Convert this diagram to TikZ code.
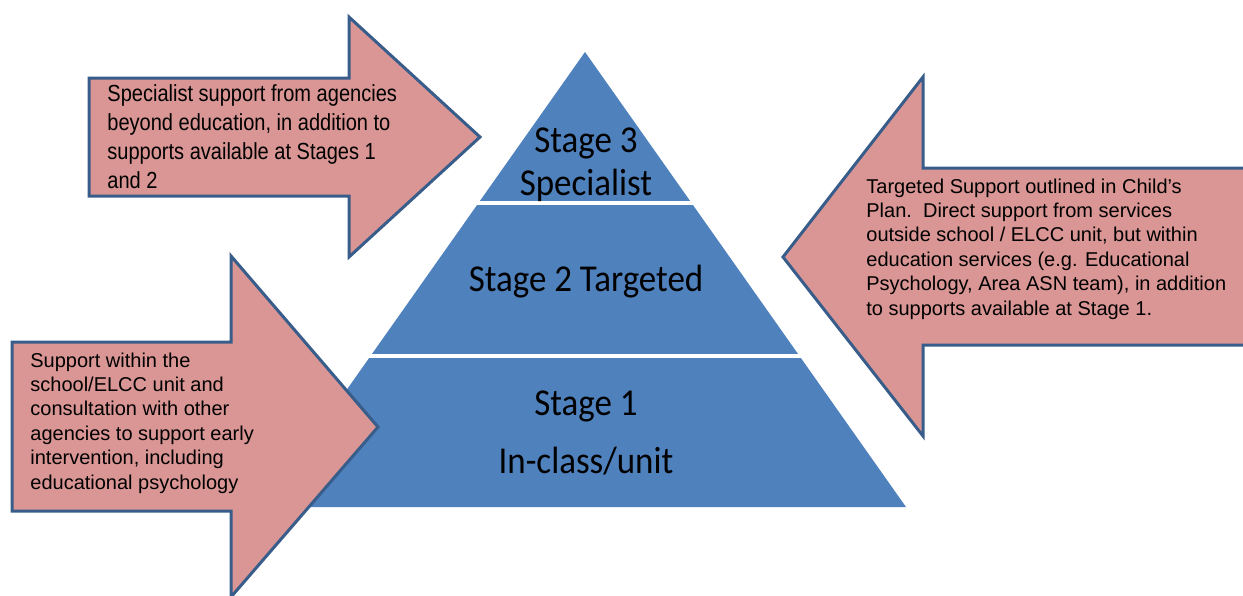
\documentclass[tikz,border=0pt]{standalone}
\usepackage{fontspec}
\setmainfont{Liberation Sans}
\newfontfamily\tallfont[FakeStretch=0.86]{Liberation Sans}
\newfontfamily\stagefont[FakeStretch=0.92]{Carlito}
\usetikzlibrary{calc}
\definecolor{pyrblue}{HTML}{4F81BD}
\definecolor{arrowpink}{HTML}{D99694}
\definecolor{arrowedge}{HTML}{385D8A}
\tikzset{
  supportarrow/.style={fill=arrowpink, draw=arrowedge, line width=1.5pt, line join=miter},
  gapline/.style={white, line width=1.75pt, shorten <=-6pt, shorten >=-6pt},
  stagelabel/.style={anchor=base, inner sep=0pt, font=\stagefont\fontsize{19}{23}\selectfont},
  boxtext/.style={anchor=base west, inner sep=0pt, align=left, font=\fontsize{10}{12.2}\selectfont},
  tallboxtext/.style={anchor=base west, inner sep=0pt, align=left, font=\tallfont\fontsize{11.65}{14.35}\selectfont}
}

\begin{document}
\begin{tikzpicture}[x=0.5pt,y=-0.5pt]
\useasboundingbox (0,0) rectangle (1243,595);
\clip (0,0) rectangle (1243,595);

%Pyramid
\coordinate (apex) at (585,52);
\coordinate (baseL) at (264,507);
\coordinate (baseR) at (906,507);
\fill[pyrblue] (apex) -- (baseL) -- (baseR) -- cycle;
\draw[gapline] ($(apex)!0.332!(baseL)$) -- ($(apex)!0.332!(baseR)$);
\draw[gapline] ($(apex)!0.668!(baseL)$) -- ($(apex)!0.668!(baseR)$);

\node[stagelabel] (stagethree) at (586,152) {Stage 3};
\node[stagelabel] (specialist) at (586,195) {Specialist};
\node[stagelabel] (stagetwo) at (586,291) {Stage 2 Targeted};
\node[stagelabel] (stageone) at (586,415) {Stage 1};
\node[stagelabel] (inclass) at (586,473) {In-class/unit};

%Stage 3 arrow (text anchored on its last line)
\draw[supportarrow] (89,78) -- (349,78) -- (349,17) -- (480,137) -- (349,257) -- (349,196) -- (89,196) -- cycle;
\node[tallboxtext] (stagethreetext) at (107,188) {Specialist support from agencies\\beyond education, in addition to\\supports available at Stages 1\\and 2};

%Stage 1 arrow
\draw[supportarrow] (12,342) -- (231,342) -- (231,256) -- (378,427) -- (231,597) -- (231,511) -- (12,511) -- cycle;
\node[boxtext] (stageonetext) at (30,489) {Support within the\\school/ELCC unit and\\consultation with other\\agencies to support early\\intervention, including\\educational psychology};

%Stage 2 arrow
\draw[supportarrow] (1250,168) -- (923,168) -- (923,77) -- (783,257) -- (923,436) -- (923,345) -- (1250,345) -- cycle;
\node[boxtext] (stagetwotext) at (866,315) {Targeted Support outlined in Child’s\\Plan.\ \ Direct support from services\\outside school / ELCC unit, but within\\education services (e.g. Educational\\Psychology, Area ASN team), in addition\\to supports available at Stage 1.};

\end{tikzpicture}
\end{document}
